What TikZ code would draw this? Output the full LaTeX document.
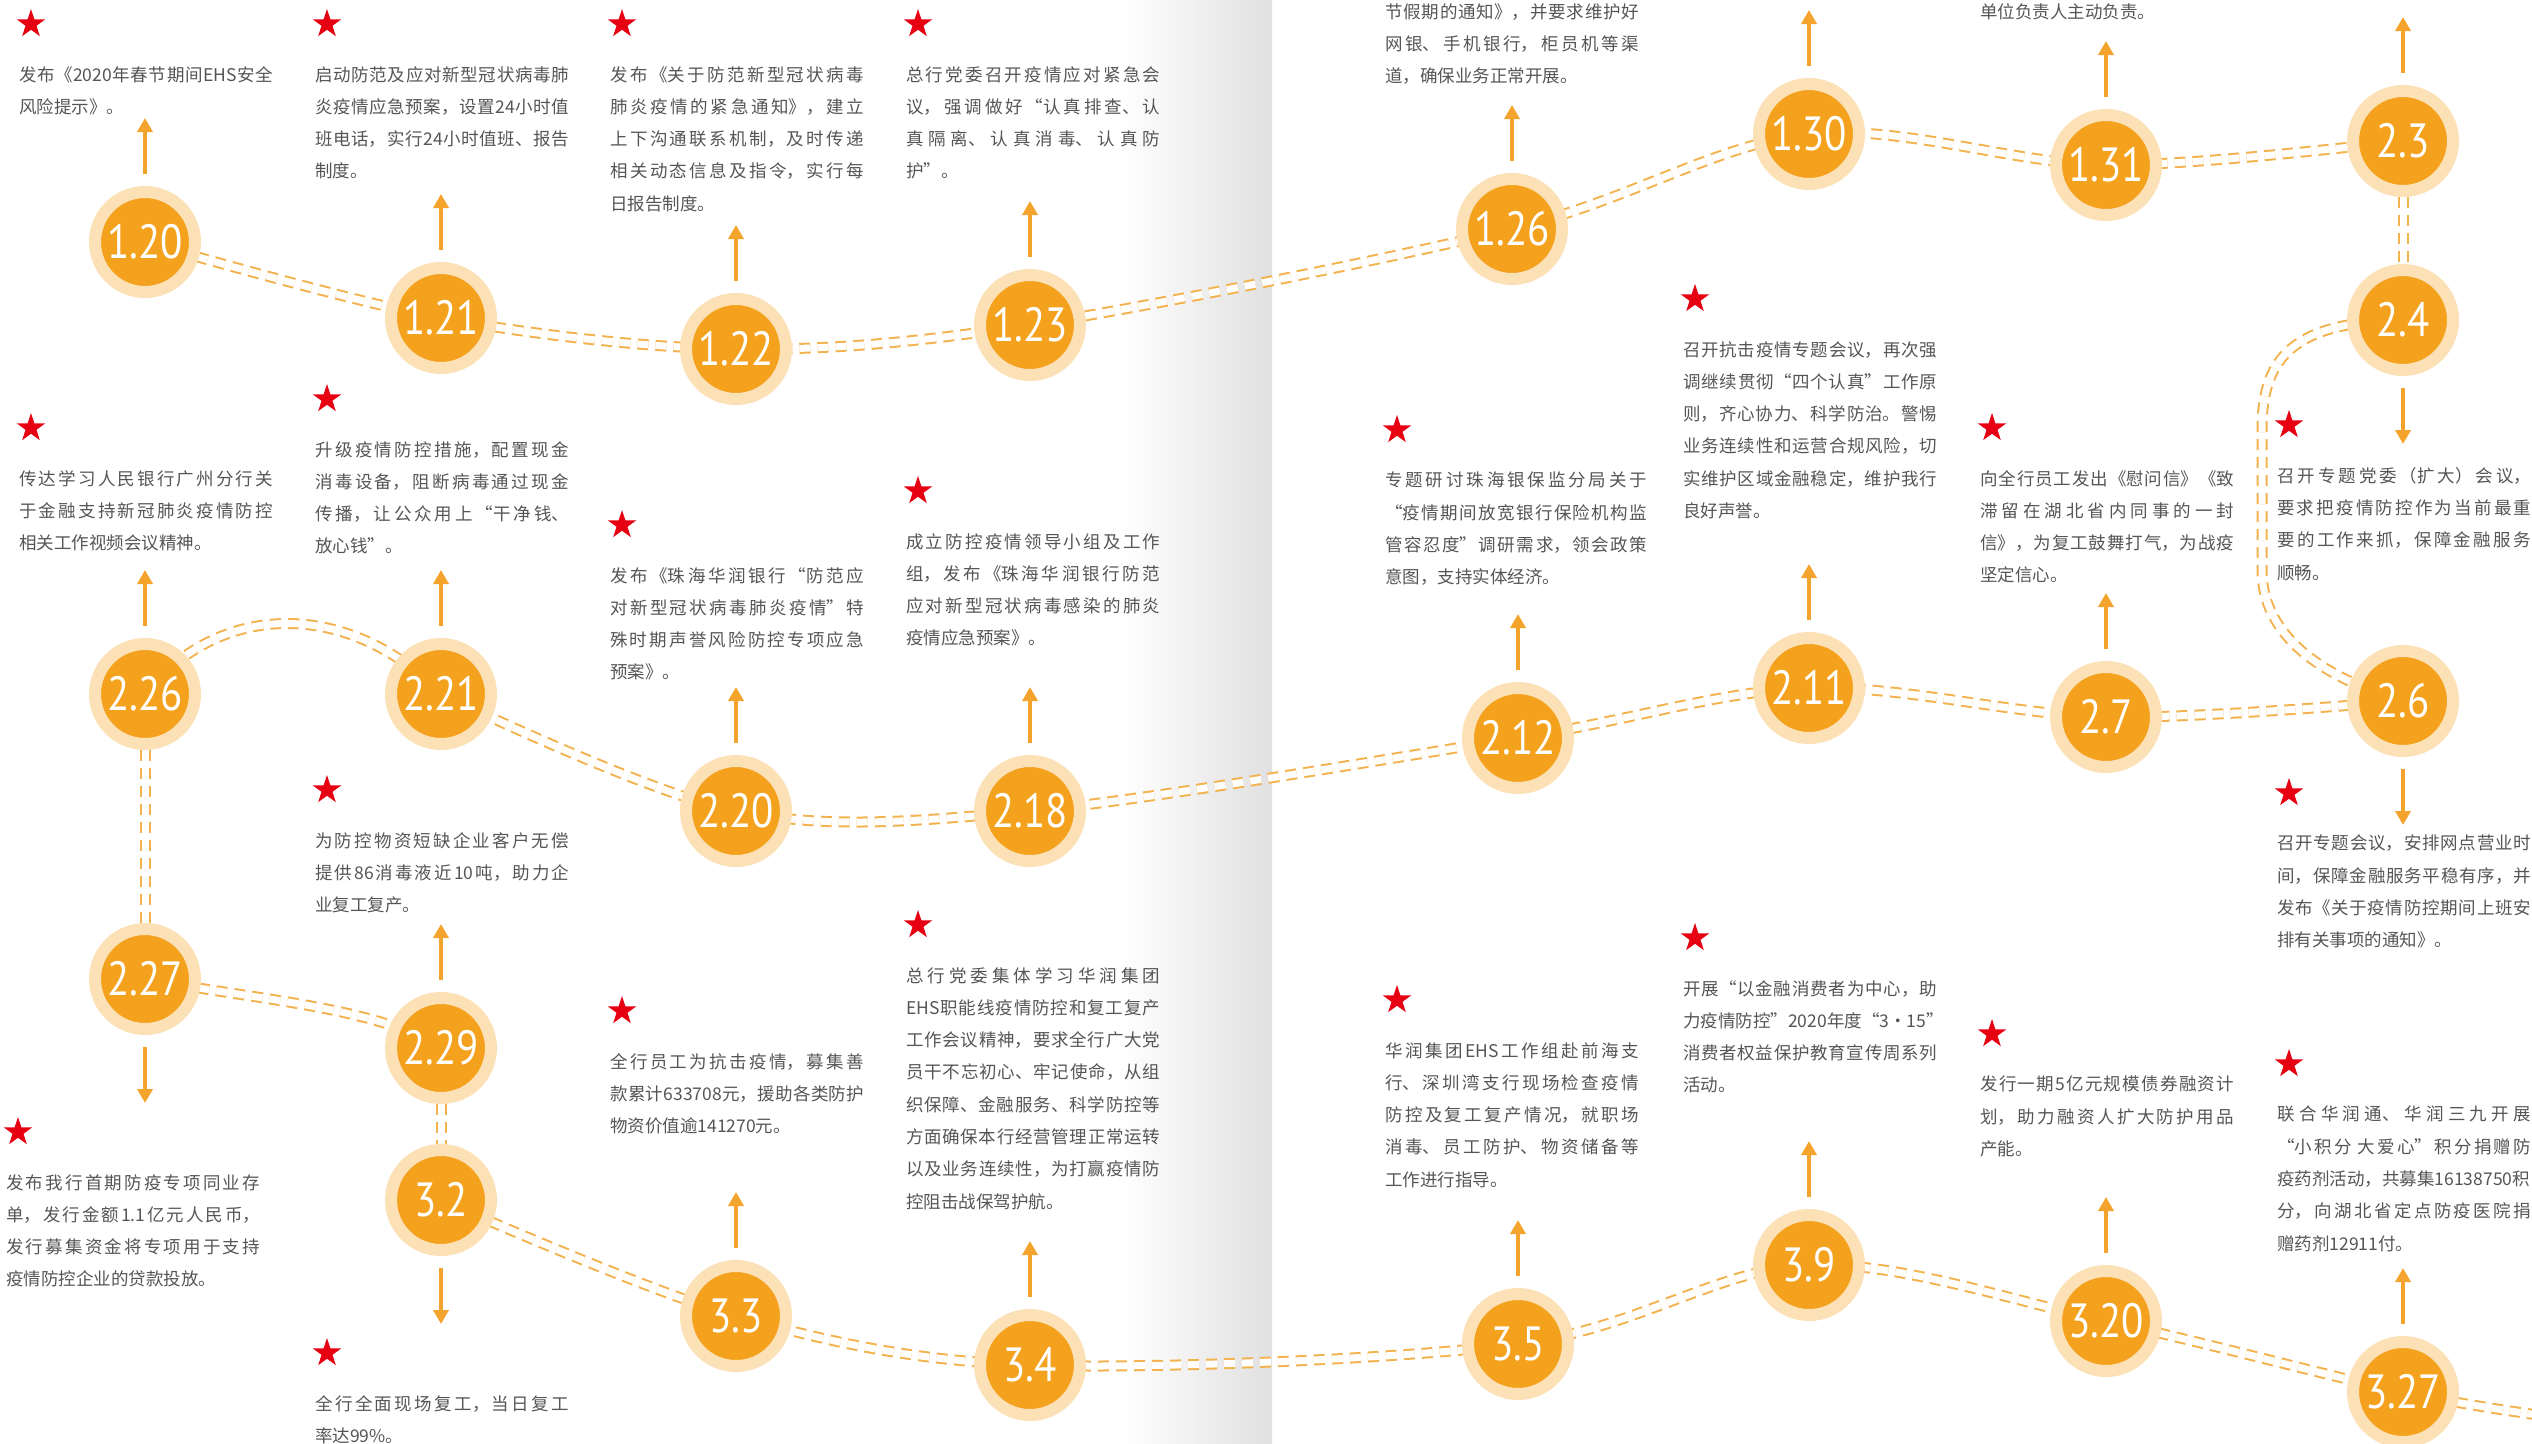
\documentclass[tikz,border=0pt]{standalone}
\usepackage{fontspec}
\usepackage{tikz}
\usetikzlibrary{shapes.geometric,arrows.meta,positioning,backgrounds}
\newfontfamily\cjk{Noto Sans CJK SC}
\newfontfamily\numfont[FakeStretch=0.85]{PT Sans}
\XeTeXlinebreaklocale "zh"
\XeTeXlinebreakskip=0pt plus 3pt
\definecolor{dotorange}{HTML}{F4A21E}
\definecolor{dotpeach}{HTML}{FCE0B6}
\definecolor{roadorange}{HTML}{F3B24D}
\definecolor{arroworange}{HTML}{F4A42C}
\definecolor{starred}{HTML}{E60012}
\definecolor{textgray}{HTML}{555555}

\begin{document}
\begin{tikzpicture}[x=1pt, y=-1pt,
  dot/.style={circle, fill=dotorange, draw=dotpeach, line width=12pt,
    minimum size=100pt, inner sep=0pt, text=white,
    font=\numfont\fontsize{48}{48}\selectfont},
  road/.style={draw=roadorange, line width=2pt, double=white,
    double distance=7pt, dash pattern=on 11pt off 7pt},
  arr/.style={arroworange, line width=3.5pt, -{Triangle[width=15pt,length=14pt]}},
  redstar/.style={star, star points=5, star point ratio=2.6, fill=starred,
    minimum size=30pt, inner sep=0pt},
  evtext/.style={anchor=north west, inner sep=0pt, text width=254pt,
    align=justify, text=textgray, font=\cjk\fontsize{17.5}{32.3}\selectfont}]
\useasboundingbox (0,0) rectangle (2532,1443);
\clip (0,0) rectangle (2532,1443);

% dates
\node[dot] (c120) at (145,242) {1.20};
\node[dot] (c121) at (441,318) {1.21};
\node[dot] (c122) at (736,349) {1.22};
\node[dot] (c123) at (1030,325) {1.23};
\node[dot] (c126) at (1512,229) {1.26};
\node[dot] (c130) at (1809,134) {1.30};
\node[dot] (c131) at (2106,165) {1.31};
\node[dot] (c23) at (2403,141) {2.3};
\node[dot] (c24) at (2403,320) {2.4};
\node[dot] (c226) at (145,694) {2.26};
\node[dot] (c221) at (441,694) {2.21};
\node[dot] (c220) at (736,811) {2.20};
\node[dot] (c218) at (1030,811) {2.18};
\node[dot] (c212) at (1518,738) {2.12};
\node[dot] (c211) at (1809,688) {2.11};
\node[dot] (c27) at (2106,717) {2.7};
\node[dot] (c26) at (2403,701) {2.6};
\node[dot] (c227) at (145,979) {2.27};
\node[dot] (c229) at (441,1048) {2.29};
\node[dot] (c32) at (441,1200) {3.2};
\node[dot] (c33) at (736,1316) {3.3};
\node[dot] (c34) at (1030,1365) {3.4};
\node[dot] (c35) at (1518,1344) {3.5};
\node[dot] (c39) at (1809,1265) {3.9};
\node[dot] (c320) at (2106,1321) {3.20};
\node[dot] (c327) at (2403,1392) {3.27};

% events
\node[evtext] (t120) at (19,66) {发布《2020年春节期间EHS安全\linebreak 风险提示》。};
\node[evtext] (t121) at (315,66) {启动防范及应对新型冠状病毒肺\linebreak 炎疫情应急预案，设置24小时值\linebreak 班电话，实行24小时值班、报告\linebreak 制度。};
\node[evtext] (t122) at (610,66) {发布《关于防范新型冠状病毒\linebreak 肺炎疫情的紧急通知》，建立\linebreak 上下沟通联系机制，及时传递\linebreak 相关动态信息及指令，实行每\linebreak 日报告制度。};
\node[evtext] (t123) at (906,66) {总行党委召开疫情应对紧急会\linebreak 议，强调做好“认真排查、认\linebreak 真隔离、认真消毒、认真防\linebreak 护”。};
\node[evtext] (t126) at (1385,3) {节假期的通知》，并要求维护好\linebreak 网银、手机银行，柜员机等渠\linebreak 道，确保业务正常开展。};
\node[evtext] (t131) at (1980,3) {单位负责人主动负责。};
\node[evtext] (t226) at (19,470) {传达学习人民银行广州分行关\linebreak 于金融支持新冠肺炎疫情防控\linebreak 相关工作视频会议精神。};
\node[evtext] (t221) at (315,441) {升级疫情防控措施，配置现金\linebreak 消毒设备，阻断病毒通过现金\linebreak 传播，让公众用上“干净钱、\linebreak 放心钱”。};
\node[evtext] (t220) at (610,567) {发布《珠海华润银行“防范应\linebreak 对新型冠状病毒肺炎疫情”特\linebreak 殊时期声誉风险防控专项应急\linebreak 预案》。};
\node[evtext] (t218) at (906,533) {成立防控疫情领导小组及工作\linebreak 组，发布《珠海华润银行防范\linebreak 应对新型冠状病毒感染的肺炎\linebreak 疫情应急预案》。};
\node[evtext, text width=262pt] (t212) at (1385,472) {专题研讨珠海银保监分局关于\linebreak “疫情期间放宽银行保险机构监\linebreak 管容忍度”调研需求，领会政策\linebreak 意图，支持实体经济。};
\node[evtext] (t211) at (1683,341) {召开抗击疫情专题会议，再次强\linebreak 调继续贯彻“四个认真”工作原\linebreak 则，齐心协力、科学防治。警惕\linebreak 业务连续性和运营合规风险，切\linebreak 实维护区域金融稳定，维护我行\linebreak 良好声誉。};
\node[evtext] (t27) at (1980,470) {向全行员工发出《慰问信》《致\linebreak 滞留在湖北省内同事的一封\linebreak 信》，为复工鼓舞打气，为战疫\linebreak 坚定信心。};
\node[evtext] (t24) at (2277,467) {召开专题党委（扩大）会议，\linebreak 要求把疫情防控作为当前最重\linebreak 要的工作来抓，保障金融服务\linebreak 顺畅。};
\node[evtext] (t26) at (2277,835) {召开专题会议，安排网点营业时\linebreak 间，保障金融服务平稳有序，并\linebreak 发布《关于疫情防控期间上班安\linebreak 排有关事项的通知》。};
\node[evtext] (t229) at (315,832) {为防控物资短缺企业客户无偿\linebreak 提供86消毒液近10吨，助力企\linebreak 业复工复产。};
\node[evtext] (t227) at (6,1174) {发布我行首期防疫专项同业存\linebreak 单，发行金额1.1亿元人民币，\linebreak 发行募集资金将专项用于支持\linebreak 疫情防控企业的贷款投放。};
\node[evtext] (t32) at (315,1395) {全行全面现场复工，当日复工\linebreak 率达99\%。};
\node[evtext] (t33) at (610,1053) {全行员工为抗击疫情，募集善\linebreak 款累计633708元，援助各类防护\linebreak 物资价值逾141270元。};
\node[evtext] (t34) at (906,967) {总行党委集体学习华润集团\linebreak EHS职能线疫情防控和复工复产\linebreak 工作会议精神，要求全行广大党\linebreak 员干不忘初心、牢记使命，从组\linebreak 织保障、金融服务、科学防控等\linebreak 方面确保本行经营管理正常运转\linebreak 以及业务连续性，为打赢疫情防\linebreak 控阻击战保驾护航。};
\node[evtext] (t35) at (1385,1042) {华润集团EHS工作组赴前海支\linebreak 行、深圳湾支行现场检查疫情\linebreak 防控及复工复产情况，就职场\linebreak 消毒、员工防护、物资储备等\linebreak 工作进行指导。};
\node[evtext] (t39) at (1683,980) {开展“以金融消费者为中心，助\linebreak \mbox{力疫情防控”2020年度“3·15”}\linebreak 消费者权益保护教育宣传周系列\linebreak 活动。};
\node[evtext] (t320) at (1980,1076) {发行一期5亿元规模债券融资计\linebreak 划，助力融资人扩大防护用品\linebreak 产能。};
\node[evtext] (t327) at (2277,1106) {联合华润通、华润三九开展\linebreak “小积分 大爱心”积分捐赠防\linebreak \mbox{疫药剂活动，共募集16138750积}\linebreak 分，向湖北省定点防疫医院捐\linebreak 赠药剂12911付。};

\foreach \t in {t120,t121,t122,t123,t226,t221,t220,t218,t212,t211,t27,t24,
  t26,t229,t227,t32,t33,t34,t35,t39,t320,t327}
  \node[redstar] at ([shift={(12pt,42pt)}]\t.north west) {};

\foreach \n in {c120,c121,c122,c123,c126,c130,c131,c23,c226,c221,c220,c218,
  c212,c211,c27,c229,c33,c34,c35,c39,c320,c327}
  \draw[arr] ([yshift=12pt]\n.north) -- ++(0,-56);
\foreach \n in {c24,c26,c227,c32}
  \draw[arr] ([yshift=-12pt]\n.south) -- ++(0,56);

\begin{scope}[on background layer]
  \clip (0,0) rectangle (2532,1443);
  % page fold
  \fill[left color=white, right color=black!12] (1120,0) rectangle (1272,1443);
  \coordinate (rowend) at (2560,1418);
  \draw[road] plot[smooth, tension=0.55] coordinates {(c120.center) (c121.center)
    (c122.center) (c123.center) (c126.center) (c130.center) (c131.center) (c23.center)};
  \draw[road] (c23) -- (c24);
  \draw[road] (c24.center) .. controls (2290,322) and (2262,360) .. (2262,430)
    -- (2262,570) .. controls (2262,640) and (2330,680) .. (c26.center);
  \draw[road] plot[smooth, tension=0.55] coordinates {(c26.center) (c27.center)
    (c211.center) (c212.center) (c218.center) (c220.center) (c221.center)};
  \draw[road] (c221.center) .. controls (350,600) and (220,600) .. (c226.center);
  \draw[road] (c226) -- (c227);
  \draw[road] (c227.center) .. controls (260,1000) and (380,1008) .. (c229.center);
  \draw[road] (c229) -- (c32);
  \draw[road] plot[smooth, tension=0.55] coordinates {(c32.center) (c33.center)
    (c34.center) (c35.center) (c39.center) (c320.center) (c327.center) (rowend)};
\end{scope}
\end{tikzpicture}
\end{document}
